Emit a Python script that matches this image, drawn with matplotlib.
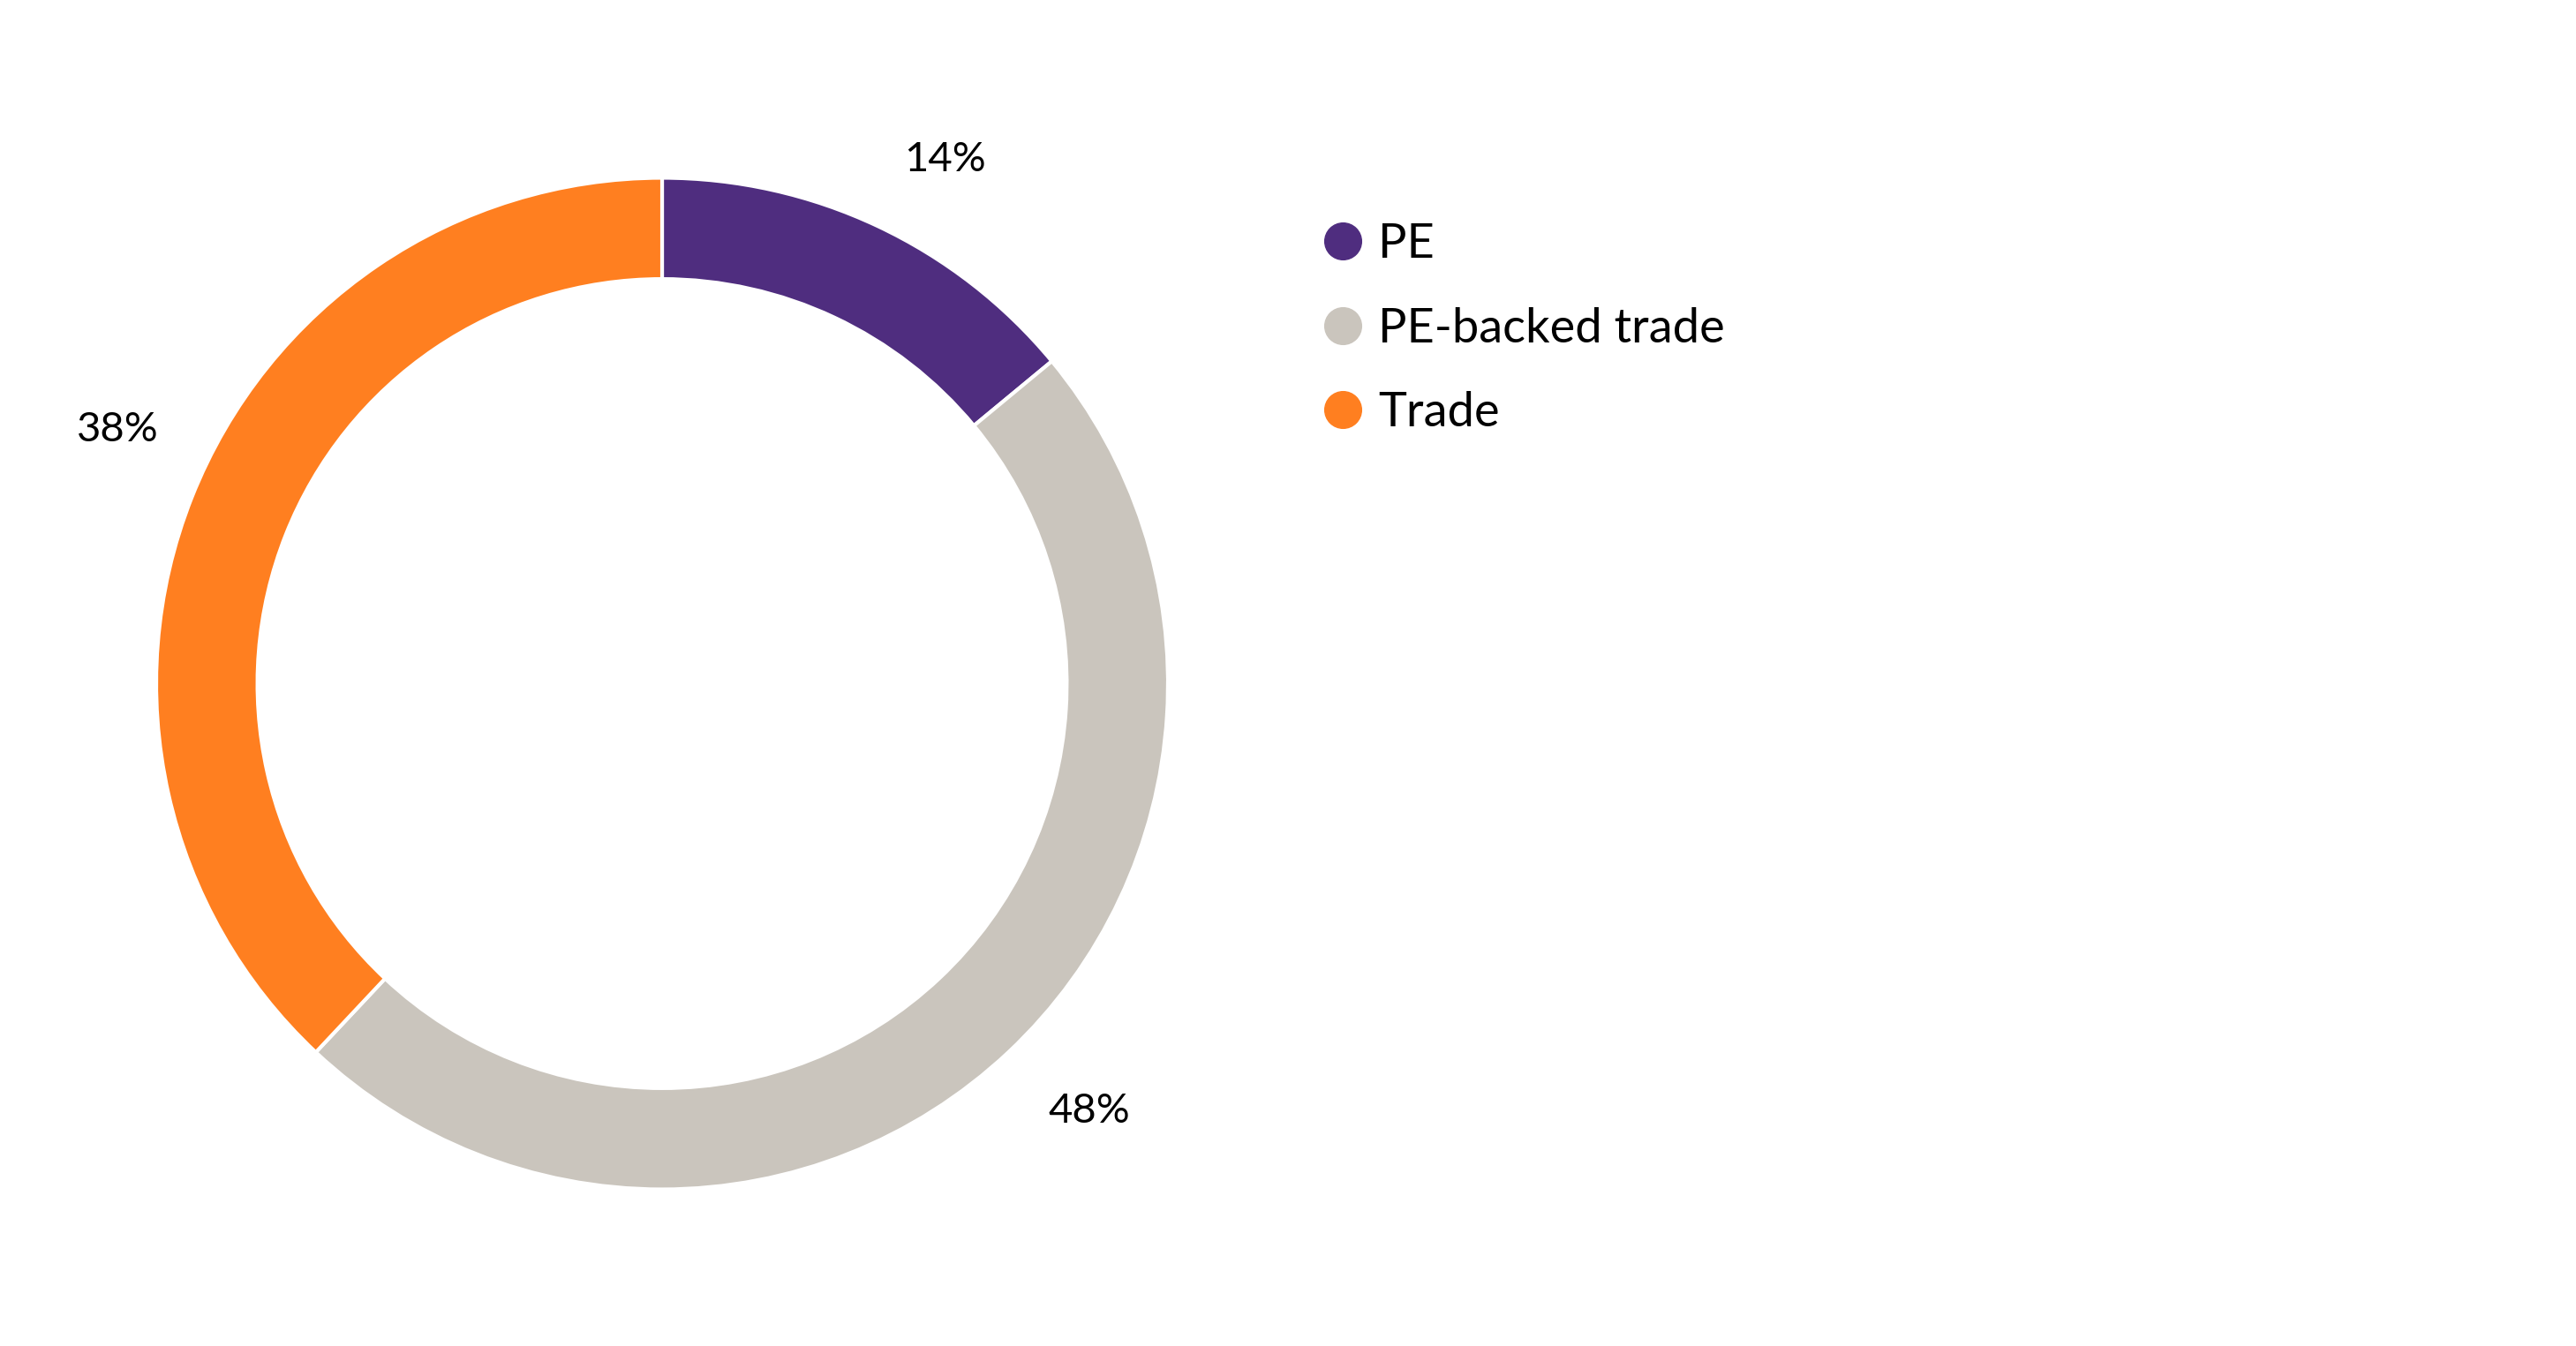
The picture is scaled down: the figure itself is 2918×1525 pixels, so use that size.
import matplotlib
matplotlib.use("Agg")
import numpy as np
import matplotlib.pyplot as plt
from matplotlib.lines import Line2D

categories = ["PE", "PE-backed trade", "Trade"]
values = [14, 48, 38]
colors = ["#4F2D7F", "#CAC5BD", "#FF7F20"]

# label placement tweaks (radius, angular offset in degrees, clockwise)
label_radius = [1.177, 1.195, 1.188]
label_shift = [3.2, -1.8, 3.4]

W, H = 2918, 1525
DPI = 100
fig = plt.figure(figsize=(W / DPI, H / DPI), dpi=DPI)
plt.rcParams['font.family'] = ['Lato', 'DejaVu Sans']

cx, cy, R = 750, 774.5, 573
ax = fig.add_axes([(cx - R) / W, (H - cy - R) / H, 2 * R / W, 2 * R / H])
ax.axis('off')

wedges, texts = ax.pie(
    values, colors=colors, startangle=90, counterclock=False, radius=1,
    wedgeprops=dict(width=0.2, edgecolor='white', linewidth=3))
ax.set_xlim(-1, 1)
ax.set_ylim(-1, 1)
ax.set_aspect('equal')

total = float(sum(values))
cum = 0.0
for v, r, s in zip(values, label_radius, label_shift):
    mid = (cum + v / 2) / total * 360 + s  # clockwise from 12 o'clock
    cum += v
    th = np.deg2rad(90 - mid)
    ax.text(r * np.cos(th), r * np.sin(th), f"{v / total * 100:.0f}%",
            ha='center', va='center', fontsize=34, color='black')

handles = [Line2D([0], [0], marker='o', linestyle='none', markersize=30,
                  markerfacecolor=c, markeredgecolor=c) for c in colors]
leg = fig.legend(handles, categories, loc='upper left',
                 bbox_to_anchor=(1499 / W, 1 - 252 / H), frameon=False,
                 prop=dict(size=39), handlelength=0.8, handletextpad=0.35,
                 labelspacing=0.86, borderpad=0, borderaxespad=0)

fig.savefig("out.png", dpi=DPI, facecolor='white')
